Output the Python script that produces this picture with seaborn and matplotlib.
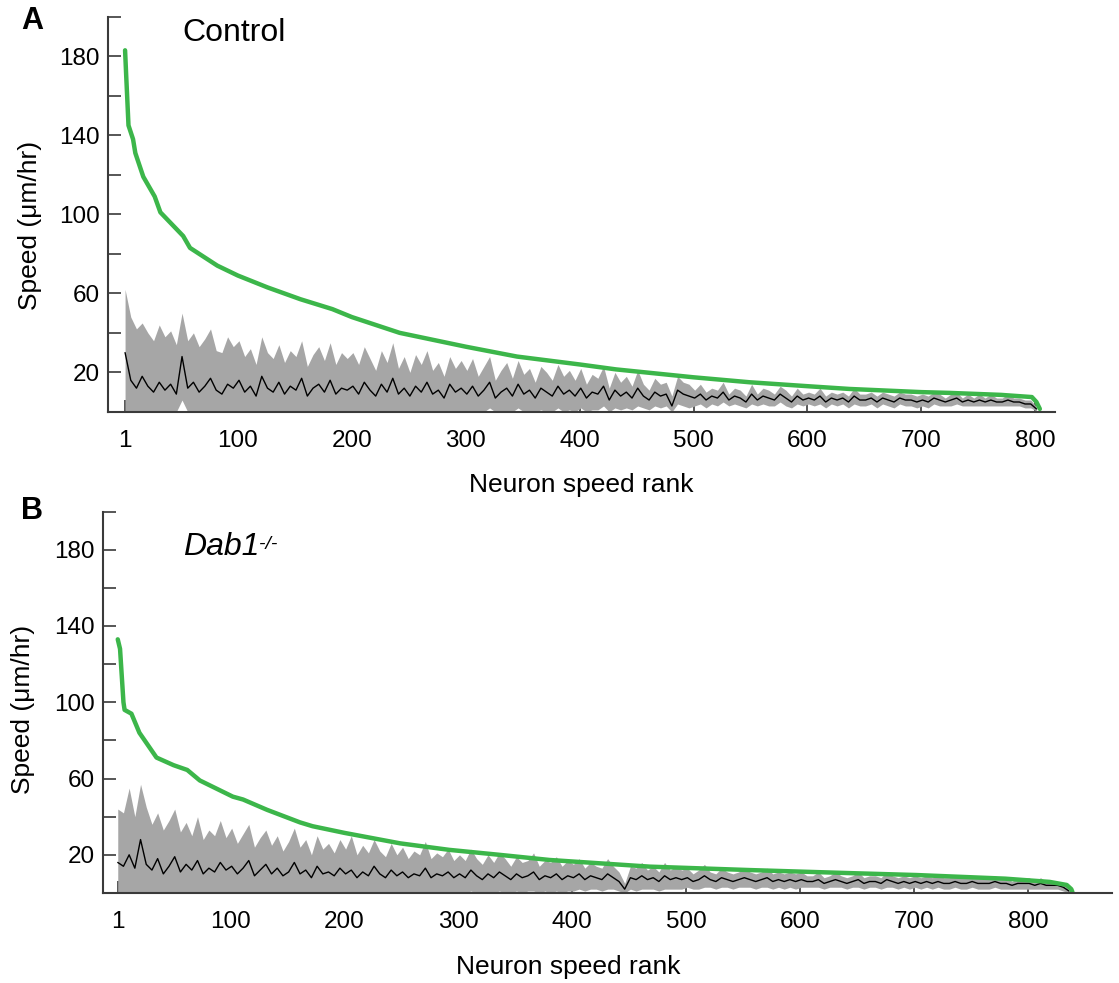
import numpy as np
import pandas as pd
import seaborn as sns
import matplotlib.pyplot as plt

# green curve (sorted peak speed) - control
ctl_green_rank = [1, 2, 4, 8, 10, 17, 27, 32, 52, 58, 82, 100, 126, 155, 183, 200, 242, 271, 300,
                  345, 400, 432, 500, 549, 600, 637, 700, 725, 770, 797, 801, 804]
ctl_green = [183, 170, 145, 138, 131, 119, 109, 101, 89, 83, 74, 69, 63, 57, 52, 48, 40, 36.5, 33,
             28, 24, 21.5, 17.5, 15, 13, 11.6, 10, 9.6, 8.6, 7.5, 5, 1.5]

# green curve - Dab1-/-
dab_green_rank = [1, 3, 6, 7, 13, 20, 35, 50, 62, 73, 102, 111, 132, 161, 172, 200, 249, 292, 336,
                  380, 468, 556, 644, 702, 780, 819, 834, 838, 839]
dab_green = [133, 128, 100, 96, 94, 84, 71, 67, 64.5, 59, 50.5, 49, 43.6, 37, 35, 31.5, 26, 22.6, 20,
             17.3, 13.8, 12, 10.4, 9.4, 7.5, 5.8, 4.2, 2, 0.5]

# mean speed and SD, every 5th rank - control (ranks 1..801)
ctl_rank = np.arange(1, 802, 5)
ctl_mean = [30, 16, 12, 18, 13, 10, 15, 11, 14, 9, 28, 12, 15, 10, 13, 17, 11, 9, 14, 12,
            16, 10, 13, 8, 18, 12, 10, 15, 9, 13, 11, 17, 8, 12, 14, 10, 16, 9, 12, 11,
            13, 9, 15, 11, 8, 14, 10, 17, 9, 12, 8, 13, 10, 15, 9, 11, 7, 14, 10, 12,
            9, 13, 8, 11, 15, 7, 10, 12, 8, 14, 9, 11, 7, 12, 10, 8, 13, 9, 11, 8,
            12, 7, 10, 9, 13, 6, 11, 8, 10, 7, 12, 8, 6, 10, 8, 9, 3, 11, 9, 8,
            7, 9, 6, 8, 7, 10, 6, 8, 7, 5, 9, 6, 8, 7, 6, 9, 7, 5, 8, 6,
            7, 6, 8, 5, 7, 6, 7, 5, 8, 6, 6, 7, 5, 7, 6, 5, 7, 6, 6, 5,
            6, 5, 7, 6, 5, 6, 7, 5, 6, 5, 6, 5, 6, 5, 5, 6, 5, 5, 4, 4,
            1.5]
ctl_sd = [32, 32, 30, 27, 27, 26, 29, 27, 27, 25, 22, 24, 25, 23, 24, 25, 20, 21, 24, 21,
          20, 18, 19, 16, 20, 18, 17, 19, 16, 18, 17, 19, 15, 17, 19, 16, 19, 15, 18, 16,
          17, 15, 18, 16, 13, 17, 15, 18, 13, 16, 12, 16, 14, 16, 12, 14, 11, 14, 12, 14,
          12, 14, 10, 12, 13, 9, 11, 13, 9, 12, 10, 11, 8, 11, 10, 8, 11, 9, 10, 8,
          10, 7, 9, 8, 10, 6, 9, 7, 8, 6, 9, 6, 5, 7, 6, 6, 5, 7, 6, 6,
          4, 5, 4, 4, 4, 5, 3, 4, 4, 3, 5, 3, 4, 4, 3, 4, 4, 3, 4, 3,
          3, 3, 4, 3, 3, 3, 3, 3, 4, 3, 3, 3, 3, 3, 3, 3, 3, 3, 3, 3,
          3, 3, 3, 3, 2, 3, 3, 2, 3, 2, 3, 2, 3, 2, 2, 3, 2, 2, 2, 2,
          1]

# mean speed and SD, every 5th rank - Dab1-/- (ranks 1..836)
dab_rank = np.arange(1, 837, 5)
dab_mean = [16, 14, 20, 13, 28, 15, 12, 18, 10, 14, 19, 11, 15, 12, 17, 10, 13, 11, 16, 12,
            14, 10, 13, 17, 9, 12, 15, 10, 13, 9, 11, 16, 10, 12, 8, 14, 10, 11, 9, 13,
            10, 12, 8, 11, 9, 14, 10, 8, 12, 9, 11, 8, 10, 9, 13, 8, 10, 9, 11, 8,
            10, 8, 12, 9, 7, 10, 8, 11, 9, 7, 10, 8, 9, 11, 7, 9, 8, 10, 7, 9,
            8, 10, 7, 9, 8, 7, 10, 8, 6, 2, 8, 7, 9, 7, 8, 6, 9, 7, 8, 7,
            8, 6, 7, 9, 7, 6, 8, 7, 6, 7, 8, 7, 6, 7, 8, 6, 7, 6, 7, 6,
            7, 6, 6, 7, 5, 6, 7, 6, 5, 6, 7, 5, 6, 6, 5, 7, 6, 5, 6, 5,
            6, 5, 6, 5, 6, 5, 5, 6, 5, 5, 6, 5, 5, 5, 6, 5, 5, 4, 5, 5,
            5, 4, 5, 4, 4, 4, 3, 1]
dab_sd = [28, 28, 35, 27, 29, 30, 24, 24, 23, 24, 25, 21, 22, 18, 23, 18, 20, 19, 22, 17,
          20, 16, 18, 19, 15, 17, 18, 15, 17, 13, 16, 18, 14, 16, 12, 16, 13, 15, 12, 15,
          13, 18, 12, 14, 12, 14, 12, 11, 14, 11, 13, 10, 12, 11, 14, 10, 11, 10, 12, 9,
          10, 9, 11, 9, 8, 10, 8, 10, 9, 7, 9, 8, 8, 10, 7, 8, 8, 9, 7, 8,
          7, 8, 6, 7, 6, 6, 8, 6, 5, 3, 6, 6, 7, 5, 6, 5, 7, 5, 6, 5,
          5, 4, 5, 6, 4, 4, 5, 4, 4, 4, 5, 4, 4, 4, 5, 4, 4, 4, 4, 4,
          4, 3, 3, 4, 3, 3, 4, 3, 3, 3, 4, 3, 3, 3, 3, 4, 3, 3, 3, 3,
          3, 3, 3, 3, 3, 3, 3, 3, 3, 3, 3, 3, 3, 3, 3, 3, 3, 2, 3, 3,
          3, 2, 3, 2, 2, 2, 2, 1]

x_ticks = [1, 100, 200, 300, 400, 500, 600, 700, 800]

sns.set_style("ticks")
plt.rcParams['font.family'] = ['Liberation Sans', 'DejaVu Sans']
plt.rcParams['text.color'] = 'black'
plt.rcParams['axes.labelcolor'] = 'black'

GREEN = '#3cb64a'
BAND = '#a6a6a6'
SPINE = '#3a3a3a'

fig = plt.figure(figsize=(11.19, 9.83), dpi=100)
axA = fig.add_axes([0.0965, 0.581, 0.846, 0.402])
axB = fig.add_axes([0.092, 0.0916, 0.902, 0.388])

panels = [
    (axA, ctl_rank, ctl_mean, ctl_sd, ctl_green_rank, ctl_green, (-14, 817), (0.500, -0.185), (-0.082, 0.471)),
    (axB, dab_rank, dab_mean, dab_sd, dab_green_rank, dab_green, (-12, 874), (0.461, -0.194), (-0.079, 0.48)),
]

for ax, rk, mean, sd, grk, green, xl, xlab_pos, ylab_pos in panels:
    df = pd.DataFrame({'rank': rk, 'mean': mean, 'sd': sd})
    lo = np.clip(df['mean'] - df['sd'], 0, None)
    hi = df['mean'] + df['sd']
    ax.fill_between(df['rank'], lo, hi, color=BAND, linewidth=0)
    sns.lineplot(data=df, x='rank', y='mean', ax=ax, color='black', linewidth=1.0)
    gdf = pd.DataFrame({'rank': grk, 'speed': green})
    sns.lineplot(data=gdf, x='rank', y='speed', ax=ax, color=GREEN, linewidth=3.2)

    ax.set_xlim(*xl)
    ax.set_ylim(0, 200)
    ax.set_xticks(x_ticks)
    ax.set_yticks([20, 60, 100, 140, 180])
    ax.set_yticks([40, 80, 120, 160, 200], minor=True)
    ax.tick_params(axis='both', which='both', direction='in', length=9, width=1.2,
                   color=SPINE, labelcolor='black', labelsize=17.5)
    ax.tick_params(axis='x', pad=13)
    ax.tick_params(axis='y', pad=6)
    for s in ['top', 'right']:
        ax.spines[s].set_visible(False)
    for s in ['left', 'bottom']:
        ax.spines[s].set_color(SPINE)
        ax.spines[s].set_linewidth(1.5)
    ax.set_xlabel('Neuron speed rank', fontsize=19)
    ax.set_ylabel('Speed (\u03bcm/hr)', fontsize=19)
    ax.xaxis.label.set_va('center')
    ax.yaxis.label.set_va('center')
    ax.xaxis.set_label_coords(*xlab_pos)
    ax.yaxis.set_label_coords(*ylab_pos)

axA.text(0.079, 0.96, 'Control', transform=axA.transAxes, fontsize=23, va='center')
t = axB.text(0.079, 0.908, 'Dab1', transform=axB.transAxes, fontsize=23, style='italic', va='center')
axB.annotate('-/-', xy=(1, 1), xycoords=t, xytext=(0, -3), textcoords='offset points',
             fontsize=14, style='italic', va='top', ha='left')
fig.text(0.019, 0.979, 'A', fontsize=22, fontweight='bold', va='center')
fig.text(0.019, 0.480, 'B', fontsize=22, fontweight='bold', va='center')

plt.savefig('out.png', dpi=100)
